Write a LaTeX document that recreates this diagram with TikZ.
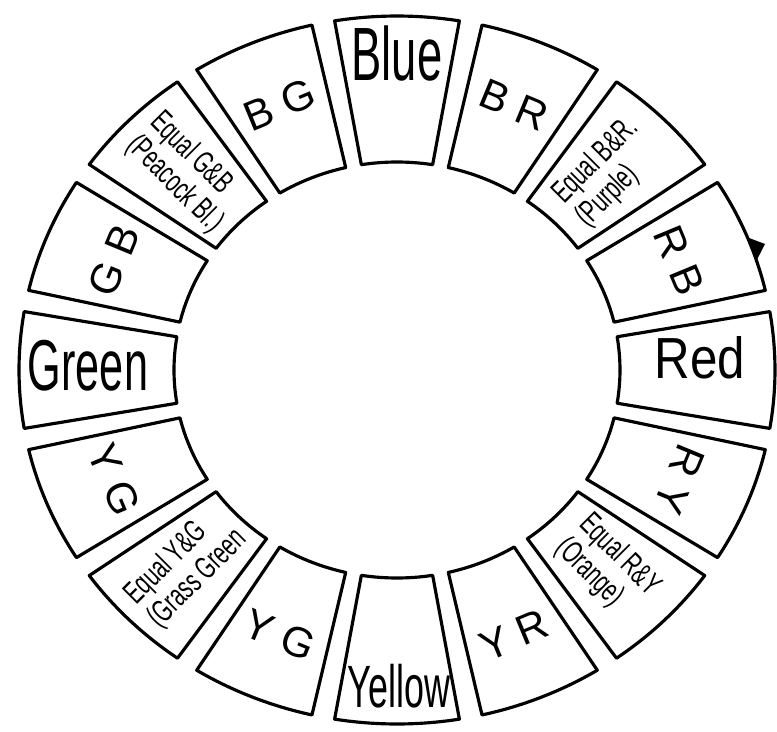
\documentclass[tikz,border=0pt]{standalone}
\usepackage{fontspec}
\setmainfont{Liberation Sans}
\newfontfamily\tallfont[FakeStretch=0.6]{Liberation Sans}
\newfontfamily\redfont[FakeStretch=0.85]{Liberation Sans}
\newfontfamily\equalfont[FakeStretch=0.65]{Liberation Sans}

\begin{document}
\begin{tikzpicture}[x=0.02cm, y=0.02cm, line width=1.8pt, line join=round,
        main/.style={anchor=base, inner sep=0pt},
        pair/.style={font=\fontsize{24}{24}\selectfont, inner sep=0pt},
        mix/.style={font=\equalfont\fontsize{18}{19}\selectfont, align=left, inner sep=0pt}]
    \useasboundingbox (-397,-361) rectangle (380,370);
    % sixteen boxes round the ring
    \foreach \a in {0,22.5,...,337.5} {
        \draw ({378*cos(\a+9.5)},{354*sin(\a+9.5)})
            arc[start angle=\a+9.5, end angle=\a-9.5, x radius=378, y radius=354]
            -- ({223*cos(\a-9.2)},{208*sin(\a-9.2)})
            arc[start angle=\a-9.2, end angle=\a+9.2, x radius=223, y radius=208]
            -- cycle;
    }
    % the four main colours
    \node[main, font=\tallfont\fontsize{43}{43}\selectfont] (lBlue) at (0,290) {Blue};
    \node[main, font=\redfont\fontsize{33}{33}\selectfont] (lRed) at (303,-8) {Red};
    \node[main, font=\tallfont\fontsize{41}{41}\selectfont] (lGreen) at (-309,-20) {Green};
    \node[main, font=\tallfont\fontsize{34}{34}\selectfont] (lYellow) at (2,-337) {Yellow};
    % two-letter mixtures
    \foreach \n/\a/\r/\lbl in {lBR/67.5/-22.5/B R, lRB/22.5/-67.5/R B, lRY/-22.5/-112.5/R Y,
            lYR/-67.5/22.5/Y R, lYG/-112.5/-22.5/Y G, lGY/-157.5/-67.5/Y G,
            lGB/157.5/67.5/G B, lBG/112.5/22.5/B G} {
        \node[pair, rotate=\r] (\n) at ({306*cos(\a)},{287*sin(\a)}) {\lbl};
    }
    % equal mixtures
    \foreach \n/\a/\r/\lineA/\lineB in {lPurple/45/45/Equal B\&R./(Purple),
            lOrange/-45/-45/Equal R\&Y/(Orange), lGrass/-135/45/Equal Y\&G/(Grass Green,
            lPeacock/135/-45/Equal G\&B/(Peacock Bl.)} {
        \node[mix, rotate=\r] (\n) at ({298*cos(\a)},{279*sin(\a)}) {\lineA\\\lineB};
    }
    % small mark on the RB box
    \fill (359.5,109.4) -- (350.5,132.6) -- (368,126) -- cycle;
\end{tikzpicture}
\end{document}
